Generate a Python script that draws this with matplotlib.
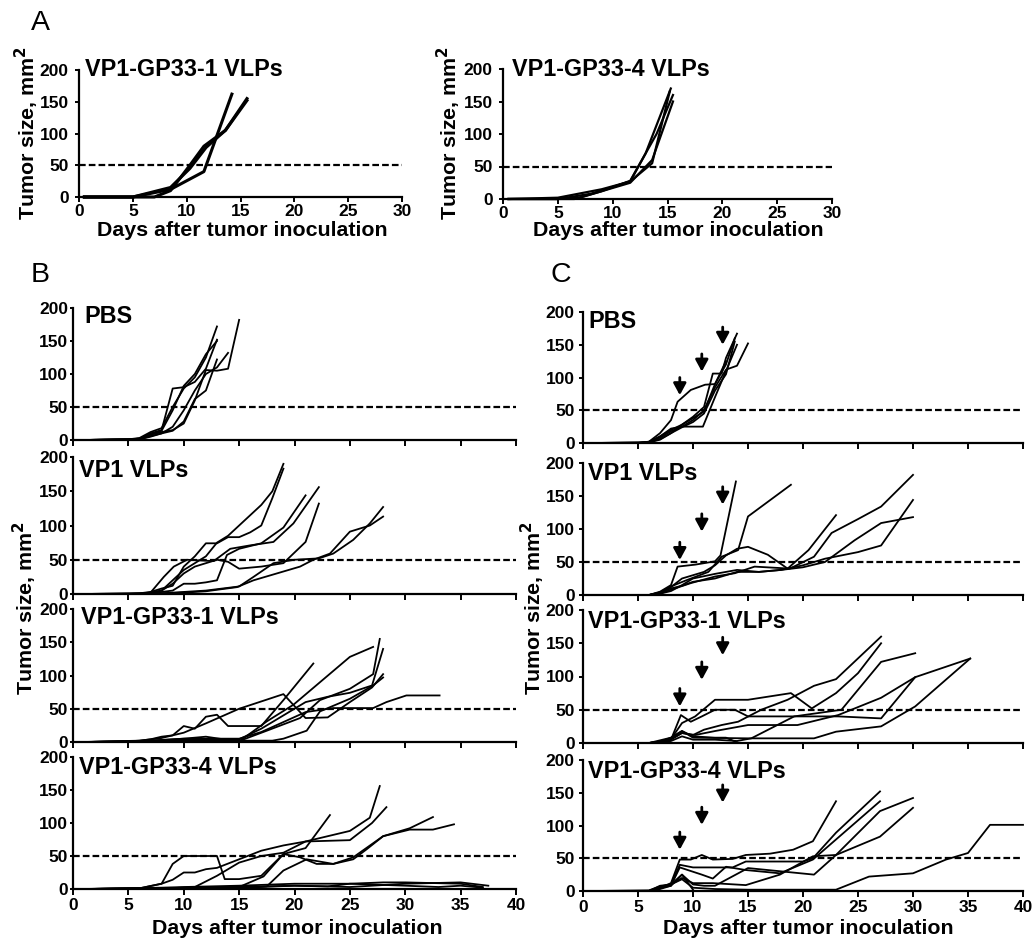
import matplotlib
matplotlib.use('Agg')
import matplotlib.pyplot as plt

plt.rcParams['font.family'] = ['Liberation Sans', 'DejaVu Sans']

# ---------------- DATA ----------------
# Panel A, VP1-GP33-1 VLPs
a1_days = [[0.5, 5, 8.5, 11.6, 14.2],
           [0.5, 5, 7, 8.5, 10.3, 11.6, 13.6, 15.6],
           [0.5, 5, 8.5, 10.3, 11.8, 13.6, 15.6]]
a1_sizes = [[0, 0, 12, 40, 162],
            [0, 0, 0, 10, 50, 80, 105, 155],
            [0, 0, 15, 45, 78, 105, 152]]
# Panel A, VP1-GP33-4 VLPs
a4_days = [[0.5, 5, 7, 11.6, 13.6, 15.5],
           [0.5, 5, 8, 11.6, 13.0, 15.3],
           [0.5, 6.5, 9, 11.6, 14.0, 15.5],
           [0.5, 5, 9, 11.6, 13.6, 15.2]]
a4_sizes = [[0, 0, 2, 25, 60, 150],
            [0, 0, 8, 27, 70, 170],
            [0, 0, 12, 28, 100, 160],
            [0, 2, 15, 27, 55, 165]]

# Panel B, PBS
b_pbs_days = [[1, 5, 6, 7, 8, 9, 10, 11, 12, 13],
              [1, 5, 6, 7, 8, 9, 10, 11, 12, 13],
              [1, 5, 6, 7, 8, 9, 10, 11, 12, 13, 14, 15],
              [1, 5, 6, 7, 8, 9, 10, 11, 12, 13, 14],
              [1, 5, 6, 7, 8, 9, 10, 11, 12, 13],
              [1, 5, 6, 7, 8, 9, 10, 11, 12, 13]]
b_pbs_sizes = [[0, 1, 2, 10, 15, 78, 80, 88, 108, 152],
               [0, 1, 3, 12, 18, 50, 78, 95, 125, 172],
               [0, 1, 2, 8, 12, 15, 25, 60, 106, 105, 108, 182],
               [0, 1, 1, 6, 10, 20, 45, 75, 100, 110, 132],
               [0, 0, 1, 5, 10, 14, 28, 62, 75, 122],
               [0, 1, 2, 9, 14, 45, 82, 100, 130, 150]]
# Panel B, VP1 VLPs
b_vp1_days = [[1, 5, 6, 7, 8, 9, 10, 11, 12, 13, 14, 15, 16, 17, 18, 19],
              [1, 6, 7, 8, 9, 10, 11, 12, 13, 14, 15, 16, 17, 18, 19],
              [1, 6, 7, 8, 9, 10, 11, 12, 13, 13.9, 15, 17, 19, 21],
              [1, 6, 7, 8.2, 9.1, 10.3, 12.7, 14.2, 16, 18.1, 19.9, 22.2],
              [1, 6, 7, 8, 9, 10, 11, 12, 13, 14, 15, 17, 19, 21, 22.2],
              [1, 6, 8, 10, 12, 15, 16.3, 18.1, 20, 22.2, 23.5, 25.3, 26.8, 28],
              [1, 6, 8, 10, 12, 14.8, 16.3, 18.4, 20.5, 21.7, 23.2, 25, 26.8, 28]]
b_vp1_sizes = [[0, 0, 1, 2, 5, 20, 35, 45, 55, 75, 85, 100, 115, 130, 150, 190],
               [0, 1, 3, 8, 12, 40, 55, 74, 74, 83, 83, 90, 100, 140, 183],
               [0, 0, 1, 3, 5, 15, 15, 17, 20, 57, 66, 74, 97, 144],
               [0, 0, 2, 25, 40, 50, 48, 66, 71, 76, 103, 156],
               [0, 1, 2, 5, 15, 30, 40, 45, 50, 47, 37, 40, 45, 76, 132],
               [0, 0, 1, 3, 5, 11, 25, 45, 50, 52, 59, 79, 103, 127],
               [0, 0, 1, 2, 4, 10, 20, 30, 40, 50, 59, 91, 100, 113]]
# Panel B, VP1-GP33-1 VLPs
b_g1_days = [[1, 5, 6, 7, 8, 9, 10, 11, 12, 13, 14, 15, 17, 19, 21.7],
             [1, 6, 8, 10, 12, 15, 19, 21, 23, 25, 27, 28],
             [1, 6, 8, 10, 12, 14, 15.1, 17.5, 19.9, 25, 27.1],
             [1, 6, 8, 10, 12, 15.1, 17.5, 20.5, 22.3, 25, 27.1, 27.7],
             [1, 6, 8, 10, 12, 14, 15, 17, 19, 21, 23, 25, 27, 28],
             [1, 6, 8, 10, 12, 15, 18, 19, 21.1, 22.3, 25, 27.1, 28],
             [1, 6, 8, 10, 12, 15, 17, 19, 21, 23.5, 25, 27.1, 28.3, 30.1, 33.1]]
b_g1_sizes = [[0, 1, 2, 4, 8, 10, 24, 20, 38, 41, 24, 24, 24, 63, 118],
              [0, 2, 6, 14, 28, 50, 72, 36, 37, 60, 82, 102],
              [0, 1, 3, 5, 8, 3, 2, 31, 56, 128, 143],
              [0, 1, 2, 3, 4, 2, 17, 36, 63, 80, 102, 155],
              [0, 1, 2, 3, 3, 4, 4, 20, 40, 60, 68, 74, 85, 140],
              [0, 0, 1, 2, 2, 2, 2, 5, 17, 46, 65, 85, 97],
              [0, 1, 3, 5, 5, 5, 15, 30, 45, 51, 51, 51, 60, 70, 70]]
# Panel B, VP1-GP33-4 VLPs
b_g4_days = [[1, 6, 8, 9, 10, 13, 13.7, 15, 17, 19, 21, 23.2],
             [1, 6, 8, 9, 10, 11, 12, 13, 15, 17, 19, 21, 25, 26.8, 27.7],
             [1, 6, 8, 10, 11, 13, 15, 17, 19, 21, 25, 27, 28.3],
             [1, 8, 15.4, 17.5, 19, 21.1, 23.5, 25.3, 26.5, 28, 30.4, 32.5],
             [1, 8, 12, 15, 17.2, 19, 20.5, 22, 23.5, 25.3, 28, 30.4, 32.5, 34.4],
             [1, 8, 10, 15, 20, 25, 28, 30, 35, 37],
             [1, 8, 10, 15, 20, 25, 28, 30, 35, 37.5],
             [1, 8, 10, 15, 20, 23, 25, 30, 33, 35, 37]]
b_g4_sizes = [[0, 1, 8, 38, 50, 50, 15, 15, 20, 53, 62, 112],
              [0, 1, 8, 14, 25, 25, 30, 32, 45, 58, 66, 72, 88, 108, 156],
              [0, 0, 1, 2, 3, 20, 40, 50, 55, 72, 74, 100, 124],
              [0, 1, 1, 4, 28, 45, 38, 45, 60, 80, 92, 109],
              [0, 1, 2, 3, 19, 53, 48, 38, 38, 48, 80, 90, 90, 98],
              [0, 2, 3, 5, 8, 8, 10, 10, 8, 3],
              [0, 1, 2, 3, 5, 3, 6, 8, 10, 5],
              [0, 1, 1, 2, 5, 4, 8, 5, 3, 5, 2]]

# Panel C, PBS
c_pbs_days = [[1, 5, 6, 7, 8, 8.6, 9.8, 11.1, 12, 13, 13.8],
              [1, 5, 6, 7, 8, 9, 10, 11, 11.8, 12.6, 13, 14],
              [1, 5, 6, 7, 8, 9, 10, 11, 12, 13, 14, 15],
              [1, 5, 6, 7, 8, 9, 9.8, 10.9, 12, 13, 14],
              [1, 6, 7, 8, 9, 10, 11, 12, 13, 13.8],
              [1, 6, 7, 8, 9, 10, 11, 12, 13]]
c_pbs_sizes = [[0, 0, 2, 15, 35, 63, 81, 89, 90, 120, 160],
               [0, 0, 1, 10, 20, 28, 40, 55, 106, 106, 130, 167],
               [0, 0, 1, 8, 18, 25, 35, 50, 85, 112, 118, 152],
               [0, 0, 2, 10, 22, 25, 25, 25, 70, 110, 150],
               [0, 1, 6, 15, 24, 32, 45, 80, 105, 155],
               [0, 1, 5, 15, 28, 38, 48, 90, 125]]
# Panel C, VP1 VLPs
c_vp1_days = [[1, 6, 7, 8, 8.6, 10.2, 12, 12.5, 13.9],
              [1, 6, 7, 8, 9.5, 11.4, 12.6, 14.1, 15, 18.9],
              [1, 6, 7, 8, 9, 10, 11, 12, 13, 14, 15, 16.8, 18.6, 20.5, 23],
              [1, 6, 7, 8, 9.8, 12, 13.8, 15.6, 18.8, 21, 22.6, 25, 27.1, 30],
              [1, 6, 7, 8, 9, 10, 12, 14, 16, 18, 20, 22, 25, 27.1, 30],
              [1, 6, 7, 8, 9, 10, 12, 14, 16, 18, 20, 22, 24.7, 27.1, 30]]
c_vp1_sizes = [[0, 0, 5, 15, 43, 46, 51, 60, 172],
               [0, 0, 4, 13, 23, 35, 58, 68, 119, 167],
               [0, 0, 3, 12, 25, 30, 35, 45, 60, 70, 73, 61, 40, 68, 121],
               [0, 0, 2, 8, 18, 28, 33, 43, 40, 58, 94, 115, 134, 182],
               [0, 0, 4, 10, 14, 20, 25, 35, 35, 38, 45, 55, 65, 75, 144],
               [0, 0, 2, 6, 15, 25, 32, 38, 35, 38, 42, 50, 83, 109, 118]]
# Panel C, VP1-GP33-1 VLPs
c_g1_days = [[1, 6, 7, 8, 8.9, 9.8, 10.8, 12, 13.8, 15, 20, 23.2, 27.1, 30.2],
             [1, 6, 7, 8, 9, 10.2, 12, 15, 18.9, 20.8, 23, 25, 27.1],
             [1, 6, 7, 8, 9, 10, 11, 12.6, 14.1, 16.2, 18.6, 21, 23, 27.1],
             [1, 6, 7, 8, 9, 10, 12, 14, 15.3, 19.2, 23.5, 27.1, 30.2],
             [1, 6, 7, 8, 9, 10.2, 12, 15, 19.5, 23.2, 27.1, 30.2, 35.2],
             [1, 6, 7, 8, 9, 10, 15, 21, 23, 27.1, 30.2, 35.2],
             [1, 6, 8, 9, 10, 12, 13, 14]]
c_g1_sizes = [[0, 0, 2, 5, 42, 32, 40, 50, 50, 40, 40, 40, 37, 99],
              [0, 0, 2, 6, 30, 40, 65, 65, 75, 52, 75, 105, 150],
              [0, 0, 1, 5, 15, 12, 20, 27, 32, 50, 65, 86, 96, 160],
              [0, 0, 1, 3, 10, 5, 5, 3, 7, 40, 50, 122, 135],
              [0, 0, 2, 6, 15, 12, 18, 27, 27, 42, 68, 99, 127],
              [0, 0, 2, 8, 18, 8, 7, 7, 17, 25, 55, 127],
              [0, 0, 8, 18, 10, 8, 8, 1]]
# Panel C, VP1-GP33-4 VLPs
c_g4_days = [[1, 6, 7, 8, 8.8, 9.8, 10.8, 11.8, 13.6, 14.8, 17, 19.1, 20.9, 23],
             [1, 6, 7, 8, 8.8, 10, 13.6, 14.8, 20, 20.9, 23, 27],
             [1, 6, 7, 8, 8.8, 10.8, 11.8, 13, 14.8, 17.9, 20.9, 27],
             [1, 6, 7, 8, 9, 10, 11.8, 14.8, 17.9, 20.9, 23, 27, 30],
             [1, 6, 7, 8, 9, 10, 11, 12, 15, 18, 21, 23, 27, 30],
             [1, 6, 7, 8, 9, 10, 12, 15, 20, 23, 26, 30, 33, 35, 37, 40],
             [1, 6, 7, 8, 9, 10]]
c_g4_sizes = [[0, 0, 5, 12, 48, 48, 55, 48, 49, 55, 57, 63, 76, 137],
              [0, 0, 4, 10, 40, 36, 36, 45, 45, 50, 89, 152],
              [0, 0, 3, 8, 36, 25, 19, 37, 32, 27, 48, 137],
              [0, 1, 7, 10, 20, 12, 12, 9, 25, 53, 55, 122, 142],
              [0, 0, 5, 8, 25, 10, 8, 8, 35, 30, 25, 55, 83, 127],
              [0, 0, 8, 10, 18, 5, 3, 2, 2, 2, 22, 27, 48, 58, 101, 101],
              [0, 0, 5, 10, 25, 2]]

# Treatment arrows (panel C)
arrow_days = [8.8, 10.8, 12.7]
c_pbs_arrow_tips = [73, 109, 150]
c_vp1_arrow_tips = [53, 96, 137]
c_g1_arrow_tips = [55, 95, 132]
c_g4_arrow_tips = [63, 101, 135]

threshold = 50
y_ticks = [0, 50, 100, 150, 200]
a_x_ticks = [0, 5, 10, 15, 20, 25, 30]
bc_x_ticks = [0, 5, 10, 15, 20, 25, 30, 35, 40]

# ---------------- FIGURE ----------------
W, H = 1033, 941
fig = plt.figure(figsize=(W / 100, H / 100), dpi=100)


def add_ax(l, r, t, b):
    return fig.add_axes([l / W, 1 - b / H, (r - l) / W, (b - t) / H])


def style(ax, xmax, xticks, show_xlabels, ylen, ypad, lw_lines, days, sizes,
          title, toff, xlen, xpad):
    for d, s in zip(days, sizes):
        ax.plot(d, s, color='black', lw=lw_lines, clip_on=False, zorder=3)
    ax.axhline(threshold, color='black', lw=1.6, ls=(0, (3.0, 1.4)), zorder=2)
    ax.set_xlim(0, xmax)
    ax.set_ylim(0, 200)
    ax.set_xticks(xticks)
    ax.set_yticks(y_ticks)
    for sp in ['top', 'right']:
        ax.spines[sp].set_visible(False)
    for sp in ['left', 'bottom']:
        ax.spines[sp].set_linewidth(1.6)
    ax.tick_params(axis='y', direction='out', length=ylen, width=1.4, pad=ypad,
                   labelsize=12.5)
    ax.tick_params(axis='x', direction='out', length=xlen, width=1.4, pad=xpad,
                   labelsize=12.5, labelbottom=show_xlabels)
    for lab in ax.get_xticklabels() + ax.get_yticklabels():
        lab.set_fontweight('bold')
    ax.annotate(title, xy=(0, 1), xycoords='axes fraction', xytext=toff,
                textcoords='offset pixels', ha='left', va='center',
                fontsize=16.8, fontweight='bold', annotation_clip=False)


def arrows(ax, tips):
    for d, t in zip(arrow_days, tips):
        ax.annotate('', xy=(d, t), xytext=(d, t + 27),
                    arrowprops=dict(arrowstyle='-|>,head_length=0.7,head_width=0.38',
                                    lw=2.0, color='black', shrinkA=0, shrinkB=0,
                                    mutation_scale=10),
                    annotation_clip=False)


# Panel A
axA1 = add_ax(79, 402, 70, 197)
style(axA1, 30, a_x_ticks, True, 3, 4.5, 2.2, a1_days, a1_sizes,
      'VP1-GP33-1 VLPs', (6, 0), 3.5, 1.5)
axA2 = add_ax(503, 832, 69, 199)
style(axA2, 30, a_x_ticks, True, 3, 4.5, 1.6, a4_days, a4_sizes,
      'VP1-GP33-4 VLPs', (9, 0), 3.5, 1.5)

# Panel B
b_rows = [(308, 440), (457, 594), (609, 742), (757, 889)]
b_data = [(b_pbs_days, b_pbs_sizes, 'PBS', (11, -9)),
          (b_vp1_days, b_vp1_sizes, 'VP1 VLPs', (6, -14)),
          (b_g1_days, b_g1_sizes, 'VP1-GP33-1 VLPs', (8, -9)),
          (b_g4_days, b_g4_sizes, 'VP1-GP33-4 VLPs', (6, -10))]
for i, ((t, b), (d, s, title, toff)) in enumerate(zip(b_rows, b_data)):
    ax = add_ax(73, 516, t, b)
    style(ax, 40, bc_x_ticks, i == 3, 2.5, 1.0, 1.3, d, s, title, toff, 4, 2.5)

# Panel C
c_rows = [(312, 443), (463, 595), (610, 743), (760, 891)]
c_data = [(c_pbs_days, c_pbs_sizes, 'PBS', (5, -10), c_pbs_arrow_tips),
          (c_vp1_days, c_vp1_sizes, 'VP1 VLPs', (5, -11), c_vp1_arrow_tips),
          (c_g1_days, c_g1_sizes, 'VP1-GP33-1 VLPs', (5, -12), c_g1_arrow_tips),
          (c_g4_days, c_g4_sizes, 'VP1-GP33-4 VLPs', (5, -12), c_g4_arrow_tips)]
for i, ((t, b), (d, s, title, toff, tips)) in enumerate(zip(c_rows, c_data)):
    ax = add_ax(583, 1023, t, b)
    style(ax, 40, bc_x_ticks, i == 3, 3, 3, 1.3, d, s, title, toff, 4, 2.5)
    arrows(ax, tips)

# Labels
ylab = 'Tumor size, mm$^\\mathbf{2}$'
lab_kw = dict(fontsize=15.4, fontweight='bold', ha='center', va='center')
fig.text(27 / W, 1 - 133 / H, ylab, rotation=90, **lab_kw)
fig.text(449 / W, 1 - 133 / H, ylab, rotation=90, **lab_kw)
fig.text(25 / W, 1 - 608 / H, ylab, rotation=90, **lab_kw)
fig.text(533 / W, 1 - 608 / H, ylab, rotation=90, **lab_kw)

xlab = 'Days after tumor inoculation'
fig.text(242 / W, 1 - 230 / H, xlab, **lab_kw)
fig.text(678 / W, 1 - 230 / H, xlab, **lab_kw)
fig.text(297 / W, 1 - 929 / H, xlab, **lab_kw)
fig.text(808 / W, 1 - 928 / H, xlab, **lab_kw)

# Panel letters
let_kw = dict(fontsize=20.5, ha='left', va='center')
fig.text(31 / W, 1 - 23 / H, 'A', **let_kw)
fig.text(31 / W, 1 - 275 / H, 'B', **let_kw)
fig.text(551 / W, 1 - 275 / H, 'C', **let_kw)

fig.savefig('out.png', dpi=100)
